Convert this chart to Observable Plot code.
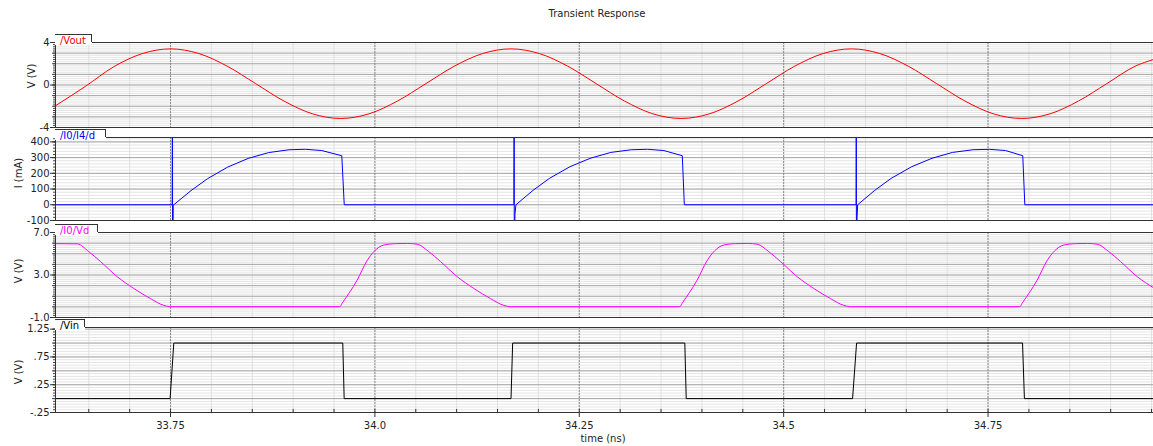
<!DOCTYPE html>
<html><head><meta charset="utf-8">
<script src="https://cdn.jsdelivr.net/npm/d3@7"></script>
<script src="https://cdn.jsdelivr.net/npm/@observablehq/plot@0.6"></script>
<style>
html,body{margin:0;padding:0;background:#fff;}
#root{position:relative;width:1153px;height:446px;overflow:hidden;font-family:"DejaVu Sans",sans-serif;color:#222;}
.abs{position:absolute;white-space:nowrap;}
.txt{font-size:10px;line-height:10px;}
</style></head><body><div id="root"></div>
<script>
// ---------- data ----------
const xDomain = [33.6093, 34.9524];
const xLabelTicks = [33.75, 34.0, 34.25, 34.5, 34.75];
const xLabelText = ["33.75", "34.0", "34.25", "34.5", "34.75"];

// /Vout (V)
const voutTime = [33.6093,33.6459,33.6806,33.7153,33.75,33.7847,33.8194,33.8541,33.8888,33.9235,33.9582,33.9929,34.0276,34.0624,34.0971,34.1318,34.1665,34.2012,34.2359,34.2706,34.3053,34.34,34.3747,34.4094,34.4441,34.4788,34.5135,34.5482,34.583,34.6177,34.6524,34.6871,34.7218,34.7565,34.7912,34.8259,34.8606,34.8953,34.93,34.9524];
const voutValue = [-1.95,-0.13,1.72,2.95,3.40,2.96,1.77,0.13,-1.51,-2.71,-3.15,-2.71,-1.51,0.13,1.77,2.96,3.40,2.96,1.77,0.13,-1.51,-2.71,-3.15,-2.71,-1.51,0.13,1.77,2.96,3.40,2.96,1.77,0.13,-1.51,-2.71,-3.15,-2.71,-1.51,0.13,1.77,2.40];

// /I0/I4/d (mA)
const idTime = [33.6093,33.752,33.7524,33.7525,33.7533,33.754,33.775,33.795,33.82,33.845,33.87,33.895,33.915,33.935,33.9595,33.9625,
  34.17,34.1704,34.1705,34.1713,34.1725,34.1935,34.2135,34.2385,34.2635,34.2885,34.3135,34.3335,34.3535,34.376,34.3785,
  34.5886,34.5889,34.589,34.5898,34.5905,34.6115,34.6315,34.6565,34.6815,34.7065,34.7315,34.7515,34.7715,34.7925,34.795,34.9524];
const idValue = [0,0,1500,-800,0,0,90,165,240,295,332,350,353,345,312,0,
  0,1500,-800,-60,0,92,168,242,296,333,350,353,345,312,0,
  0,1500,-800,-80,0,92,168,242,296,333,350,353,345,312,0,0];

// /I0/Vd (V)
const vdTime = [33.6093,33.6358,33.65,33.6643,33.6848,33.7051,33.7255,33.7418,33.75,
  33.9571,33.96,33.9783,33.99,34.0,34.01,34.025,34.04,34.0517,34.0659,34.0802,34.1007,34.121,34.1414,34.1577,34.166,
  34.373,34.3759,34.3942,34.4059,34.4159,34.4259,34.4409,34.4559,34.4676,34.4818,34.4961,34.5166,34.5369,34.5573,34.5736,34.5819,
  34.7889,34.7918,34.8101,34.8218,34.8318,34.8418,34.8568,34.8718,34.8835,34.8977,34.912,34.9325,34.9524];
const vdValue = [5.95,5.93,5.2,4.27,2.84,1.73,0.78,0.14,0.02,
  0.02,0.35,2.52,4.3,5.3,5.8,5.95,5.97,5.9,5.2,4.27,2.84,1.73,0.78,0.14,0.02,
  0.02,0.35,2.52,4.3,5.3,5.8,5.95,5.97,5.9,5.2,4.27,2.84,1.73,0.78,0.14,0.02,
  0.02,0.35,2.52,4.3,5.3,5.8,5.95,5.97,5.9,5.2,4.27,2.84,1.8];

// /Vin (V)
const vinTime = [33.6093,33.7495,33.754,33.9607,33.9624,34.1665,34.1685,34.3791,34.3808,34.5843,34.5892,34.7922,34.7945,34.9524];
const vinValue = [0,0,1,1,0,0,1,1,0,0,1,1,0,0];

// y tick labels
const voutTicks = [4, 0, -4];          const voutTickText = ["4", "0", "-4"];
const idTicks = [400, 300, 200, 100, 0, -100]; const idTickText = ["400", "300", "200", "100", "0", "-100"];
const vdTicks = [7, 3, -1];            const vdTickText = ["7.0", "3.0", "-1.0"];
const vinTicks = [1.25, 0.75, 0.25, -0.25]; const vinTickText = ["1.25", ".75", ".25", "-.25"];

// ---------- layout ----------
const W = 1153;
const root = document.getElementById("root");
function steps(lo, hi, step) {
  const out = [];
  for (let k = Math.ceil(lo / step - 1e-9); k * step <= hi + 1e-9; k++) out.push(+(k * step).toFixed(6));
  return out;
}
const xMinor = steps(33.6, 34.96, 0.05).filter(d => d >= xDomain[0] && d <= xDomain[1]);
const xMajor = steps(33.5, 35, 0.25).filter(d => d >= xDomain[0] && d <= xDomain[1]);

const panels = [
  {name: "/Vout", color: "#ff0000", top: 42, bottom: 127, domain: [-4, 4], major: 1, minor: 0.2,
   ticks: voutTicks, tickText: voutTickText, t: voutTime, v: voutValue, curve: "monotone-x",
   tabRight: 92, ylabel: "V (V)", ylx: 32, yly: 76},
  {name: "/I0/I4/d", color: "#0000ff", top: 137, bottom: 220, domain: [-100, 428], major: 100, minor: 20,
   ticks: idTicks, tickText: idTickText, t: idTime, v: idValue, curve: "linear",
   tabRight: 106, ylabel: "I (mA)", ylx: 19, yly: 173},
  {name: "/I0/Vd", color: "#ff00ff", top: 232, bottom: 317, domain: [-1, 7], major: 1, minor: 0.2,
   ticks: vdTicks, tickText: vdTickText, t: vdTime, v: vdValue, curve: "monotone-x",
   tabRight: 98, ylabel: "V (V)", ylx: 19, yly: 271},
  {name: "/Vin", color: "#000000", top: 327, bottom: 412, domain: [-0.25, 1.28], major: 0.25, minor: 0.05,
   ticks: vinTicks, tickText: vinTickText, t: vinTime, v: vinValue, curve: "linear",
   tabRight: 85, ylabel: "V (V)", ylx: 19, yly: 372, xAxis: true}
];

function addDiv(css, text, cls) {
  const d = document.createElement("div");
  d.className = "abs " + (cls || "");
  Object.assign(d.style, css);
  if (text != null) d.textContent = text;
  root.appendChild(d);
  return d;
}

for (const p of panels) {
  const mt = 10, mb = p.xAxis ? 34 : 8;
  const h = p.bottom - p.top;
  const data = p.t.map((t, i) => ({t, v: p.v[i]}));
  const yMinor = steps(p.domain[0], p.domain[1], p.minor);
  const yMajor = steps(p.domain[0], p.domain[1], p.major);
  const fmt = new Map(p.ticks.map((d, i) => [d, p.tickText[i]]));
  const xfmt = new Map(xLabelTicks.map((d, i) => [d, xLabelText[i]]));
  const marks = [
    Plot.ruleY(yMinor, {stroke: "#e4e4e4", strokeWidth: 1}),
    Plot.ruleX(xMinor, {stroke: "#e0e0e0", strokeWidth: 1}),
    Plot.ruleY(yMajor, {stroke: "#a6a6a6", strokeWidth: 1}),
    Plot.ruleX(xMajor, {stroke: "#8a8a8a", strokeWidth: 1, strokeDasharray: "2,1"}),
    Plot.line(data, {x: "t", y: "v", stroke: p.color, strokeWidth: 1, clip: true, curve: p.curve}),
    Plot.ruleY([p.domain[0]], {stroke: "#333", strokeWidth: 1}),
    Plot.ruleY([p.domain[1]], {stroke: "#333", strokeWidth: 1}),
    Plot.ruleX([xDomain[0]], {stroke: "#333", strokeWidth: 1}),
    Plot.axisY(yMinor, {tickSize: 2, tickFormat: () => "", stroke: "#444", label: null}),
    Plot.axisY(yMajor, {tickSize: 3, tickFormat: () => "", stroke: "#444", label: null}),
    Plot.axisY(p.ticks, {tickSize: 5, tickPadding: 1, tickFormat: d => fmt.get(d), fontSize: 10, fill: "#222", stroke: "#333", label: null})
  ];
  if (p.xAxis) {
    marks.push(Plot.ruleX(xMinor, {y1: p.domain[0], y2: p.domain[0] + 0.055, stroke: "#333"}));
    marks.push(Plot.axisX(xLabelTicks, {tickSize: 5, tickPadding: 4, tickFormat: d => xfmt.get(d), fontSize: 10, fill: "#222", stroke: "#333", label: null}));
  }
  const svg = Plot.plot({
    width: W, height: h + mt + mb,
    marginTop: mt, marginBottom: mb, marginLeft: 55, marginRight: 0,
    style: {background: "transparent", overflow: "visible", fontFamily: "DejaVu Sans, sans-serif", fontSize: "10px"},
    x: p.xAxis ? {domain: xDomain, label: null} : {domain: xDomain, axis: null, label: null},
    y: {domain: p.domain, label: null},
    marks
  });
  const holder = addDiv({left: "0px", top: (p.top - mt) + "px"});
  holder.appendChild(svg);

  // tab with the trace name
  addDiv({left: "55px", top: (p.top - 7) + "px", width: (p.tabRight - 55) + "px", height: "10px", background: "#fff"});
  addDiv({left: "55px", top: (p.top - 8) + "px", width: (p.tabRight - 55) + "px", height: "8px",
    borderTop: "1px solid #333", borderRight: "1px solid #333", boxSizing: "border-box"});
  addDiv({left: "60px", top: (p.top - 6.5) + "px", color: p.color}, p.name, "txt");

  // y axis label (rotated)
  addDiv({left: p.ylx + "px", top: p.yly + "px", transform: "translate(-50%,-50%) rotate(-90deg)"}, p.ylabel, "txt");
}

addDiv({left: "597px", top: "8.5px", transform: "translateX(-50%)"}, "Transient Response", "txt");
addDiv({left: "603px", top: "434px", transform: "translateX(-50%)"}, "time (ns)", "txt");
</script>
</body></html>
